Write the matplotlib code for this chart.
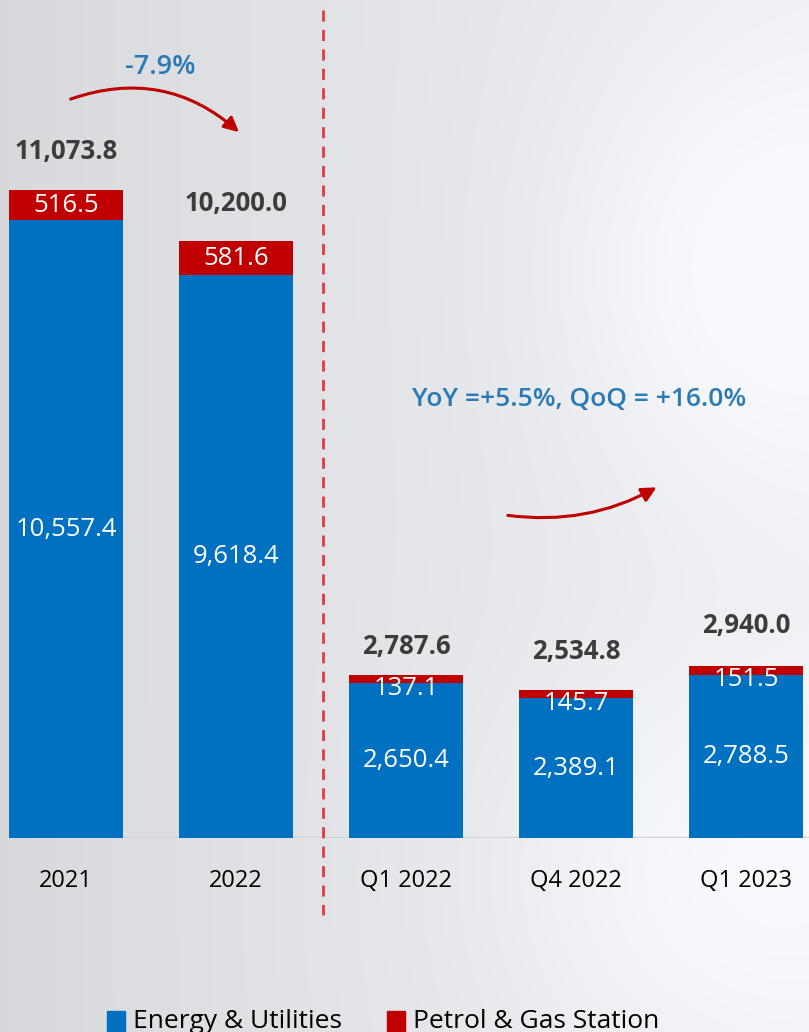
import numpy as np
import matplotlib
matplotlib.use("Agg")
import matplotlib.pyplot as plt
from matplotlib.patches import FancyArrowPatch, Rectangle

# ---- data ----
categories = ["2021", "2022", "Q1 2022", "Q4 2022", "Q1 2023"]
energy_utilities = [10557.4, 9618.4, 2650.4, 2389.1, 2788.5]
petrol_gas = [516.5, 581.6, 137.1, 145.7, 151.5]
totals = [11073.8, 10200.0, 2787.6, 2534.8, 2940.0]
annual_change = "-7.9%"
quarter_change = "YoY =+5.5%, QoQ = +16.0%"
legend_labels = ["Energy & Utilities", "Petrol & Gas Station"]

# ---- style ----
W, H = 809, 1032
BLUE = "#0070c0"
RED = "#c00000"
TXT_BLUE = "#2a7ab5"
DARK = "#3c3c3c"
FONT = "Open Sans"
plt.rcParams["font.family"] = [FONT, "DejaVu Sans"]

fig = plt.figure(figsize=(W / 100, H / 100), dpi=100)

# background gradient
bg = fig.add_axes([0, 0, 1, 1], zorder=-10)
gx = np.linspace(0, 1, 200)
gy = np.linspace(0, 1, 256)
X, Y = np.meshgrid(gx, gy)
base = 0.855 + 0.085 * X ** 0.8
blob1 = 0.06 * np.exp(-(((X - 0.95) / 0.25) ** 2 + ((Y - 0.26) / 0.22) ** 2))
blob2 = 0.05 * np.exp(-(((X - 0.9) / 0.3) ** 2 + ((Y - 0.85) / 0.2) ** 2))
v = np.clip(base + blob1 + blob2, 0, 0.985)
img = np.dstack([v - 0.012, v - 0.006, v + 0.006])
img = np.clip(img, 0, 1)
bg.imshow(img, aspect="auto", extent=[0, 1, 0, 1], origin="upper", interpolation="bilinear")
bg.set_xlim(0, 1)
bg.set_ylim(0, 1)
bg.axis("off")

# main axes
base_px = 838
scale = 648 / 11073.8  # px per unit
ax = fig.add_axes([0, (H - base_px) / H, 1, base_px / H])
ax.patch.set_alpha(0)
ax.set_ylim(0, base_px / scale)
ax.set_xlim(-66 / 170, (W - 66) / 170)
ax.axis("off")

x = np.arange(len(categories))
bw = 114 / 170
ax.bar(x, energy_utilities, width=bw, color=BLUE, zorder=3)
ax.bar(x, petrol_gas, width=bw, bottom=energy_utilities, color=RED, zorder=3)

# baseline
ax.axhline(0, color="#d2d4d8", lw=2.5, zorder=2)

px = 1 / scale
label_offsets = [39, 38, 28, 38, 40]
for i in range(len(categories)):
    e, p, t = energy_utilities[i], petrol_gas[i], totals[i]
    ax.text(x[i], e / 2, f"{e:,.1f}", ha="center", va="center", color="white",
            fontsize=18.5, zorder=4)
    ypet = min(e + p / 2, t - 14 * px)
    ax.text(x[i], ypet, f"{p:,.1f}", ha="center", va="center", color="white",
            fontsize=18.5, zorder=4)
    ax.text(x[i], t + label_offsets[i] * px, f"{t:,.1f}", ha="center", va="center",
            color=DARK, fontsize=18.5, fontweight="bold", zorder=4)
    ax.text(x[i], -43 * px, categories[i], ha="center", va="center", color="black",
            fontsize=17, zorder=4)

# dashed divider
ax.plot([1.5 + 2 / 170, 1.5 + 2 / 170], [(base_px - 10) * px, (base_px - 915) * px],
        color="#e03a40", lw=2, dashes=(4, 3), clip_on=False, zorder=2)


def fp(xp, yp):
    return xp / W, 1 - yp / H


# change annotations
fig.text(*fp(160, 67), annual_change, ha="center", va="center", color=TXT_BLUE,
         fontsize=19.5, fontweight="semibold")
fig.text(*fp(579, 399), quarter_change, ha="center", va="center", color=TXT_BLUE,
         fontsize=19, fontweight="semibold")

a1 = FancyArrowPatch((68, H - 100), (241, H - 134), transform=None,
                     connectionstyle="arc3,rad=-0.3", arrowstyle="-|>",
                     mutation_scale=22, lw=2.2, color=RED)
a2 = FancyArrowPatch((505, H - 515), (659, H - 486), transform=None,
                     connectionstyle="arc3,rad=0.17", arrowstyle="-|>",
                     mutation_scale=22, lw=2.2, color=RED)
fig.patches.extend([a1, a2])

# legend
for (lx, col, lab, tx) in [(107, BLUE, legend_labels[0], 133), (387, RED, legend_labels[1], 413)]:
    fig.patches.append(Rectangle(fp(lx, 1032), 18 / W, 21 / H, transform=fig.transFigure,
                                 color=col))
    fig.text(*fp(tx, 1021), lab, ha="left", va="center", color="black", fontsize=19)

fig.savefig("out.png", dpi=100)
